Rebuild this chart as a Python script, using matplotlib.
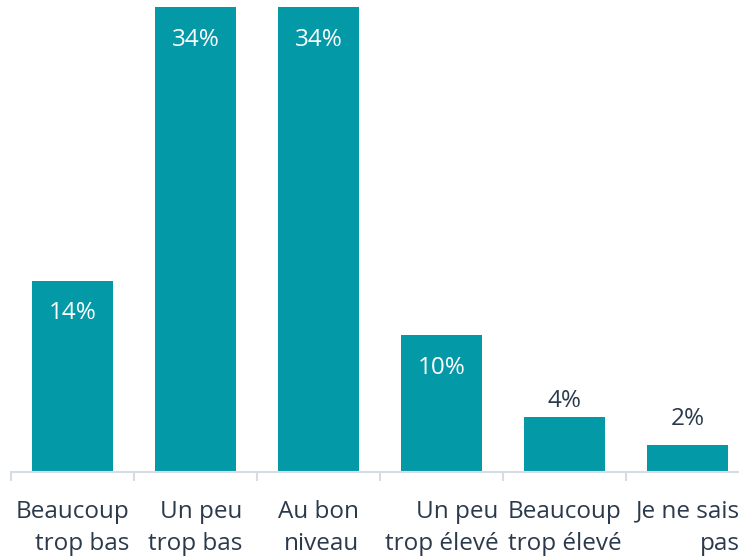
import matplotlib
matplotlib.use("Agg")
import matplotlib.pyplot as plt
from matplotlib.ticker import FixedLocator

categories = ["Beaucoup\ntrop bas", "Un peu\ntrop bas", "Au bon\nniveau",
              "Un peu\ntrop élevé", "Beaucoup\ntrop élevé", "Je ne sais\npas"]
values = [14, 34, 34, 10, 4, 2]
labels = ["14%", "34%", "34%", "10%", "4%", "2%"]
inside = [True, True, True, True, False, False]

plt.rcParams['font.family'] = ['Open Sans', 'DejaVu Sans']
BAR = "#0499A7"
TXT = "#2B3A4B"
AX = "#D6DCE3"

W, H = 739, 556
fig = plt.figure(figsize=(W/100, H/100), dpi=100)
ax = fig.add_axes([11/W, 84/H, 738/W, 465/H])
x = list(range(len(categories)))
ax.bar(x, values, width=0.66, color=BAR, edgecolor="none")
ax.set_xlim(-0.5, len(categories) - 0.5)
ax.set_ylim(0, 34)

for xi, v, lab, ins in zip(x, values, labels, inside):
    if ins:
        ax.annotate(lab, (xi, v), xytext=(0, -23.5), textcoords="offset points",
                    ha="center", va="center", color="white", fontsize=17.5)
    else:
        off = 11.5 if v >= 4 else 18.5
        ax.annotate(lab, (xi, v), xytext=(0, off), textcoords="offset points",
                    ha="center", va="center", color=TXT, fontsize=17.5)

for s in ["top", "right", "left"]:
    ax.spines[s].set_visible(False)
ax.spines["bottom"].set_color(AX)
ax.spines["bottom"].set_linewidth(1.5)
ax.set_yticks([])
ax.set_xticks(x)
ax.set_xticklabels(categories, fontsize=17.5, color=TXT, ha="center",
                   multialignment="right", linespacing=1.45)
ax.tick_params(axis="x", which="major", length=0, pad=20)
ax.xaxis.set_minor_locator(FixedLocator([i - 0.5 for i in range(len(categories) + 1)]))
ax.tick_params(axis="x", which="minor", length=6.5, width=1.5, color=AX)

fig.savefig("out.png", dpi=100)
